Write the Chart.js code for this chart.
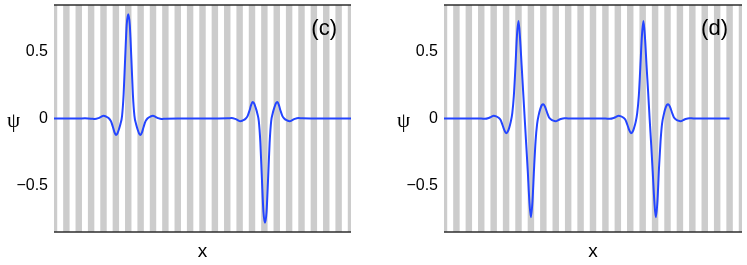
<!DOCTYPE html>
<html>
<head>
<meta charset="utf-8">
<script src="https://cdn.jsdelivr.net/npm/chart.js@4.4.1/dist/chart.umd.min.js"></script>
<style>
  html, body { margin: 0; padding: 0; background: #fff; }
  body { width: 747px; height: 265px; position: relative; overflow: hidden; }
  .panel { position: absolute; top: 0; height: 265px; }
</style>
</head>
<body>
<div class="panel" style="left:0;width:351px"><canvas id="chartC"></canvas></div>
<div class="panel" style="left:390px;width:352px"><canvas id="chartD"></canvas></div>
<script>
// lattice sites (centre of each grey stripe), in units of the lattice period
const stripeX = [0, 1, 2, 3, 4, 5, 6, 7, 8, 9, 10, 11, 12, 13, 14, 15, 16, 17, 18, 19, 20, 21, 22, 23, 24];
const yTicks = [-0.5, 0, 0.5];

// panel (c): positive packet near site 6, negative packet near site 17
const cX = [0, 1, 2, 2.5, 3.0, 3.3, 3.6, 3.8, 4.0, 4.2, 4.45, 4.6, 4.75, 4.875, 5.0, 5.125, 5.25, 5.375, 5.5, 5.625, 5.75, 5.875,
  6.0, 6.125, 6.25, 6.375, 6.5, 6.625, 6.75, 6.875, 7.0, 7.125, 7.25, 7.4, 7.55, 7.8, 8.0, 8.2, 8.4, 8.7, 9.0, 10, 11, 12, 13,
  14.05, 14.35, 14.65, 14.85, 15.05, 15.25, 15.5, 15.65, 15.8, 15.925, 16.05, 16.175, 16.3, 16.425, 16.55, 16.675, 16.8, 16.925,
  17.05, 17.175, 17.3, 17.425, 17.55, 17.675, 17.8, 17.925, 18.05, 18.175, 18.3, 18.45, 18.6, 18.85, 19.05, 19.25, 19.45, 19.75,
  20.05, 21, 22, 23, 24];
const cPsi = [0, 0, 0, 0.001, -0.001, -0.004, 0.003, 0.012, 0.02, 0.015, 0.0, -0.02, -0.06, -0.1, -0.123, -0.112, -0.08, -0.04, 0.02, 0.18, 0.45, 0.7,
  0.78, 0.7, 0.45, 0.18, 0.02, -0.04, -0.08, -0.112, -0.123, -0.1, -0.06, -0.02, 0.0, 0.015, 0.02, 0.012, 0.003, -0.004, -0.001, 0, 0, 0, 0,
  0.001, 0.004, -0.003, -0.012, -0.02, -0.015, 0.0, 0.02, 0.06, 0.1, 0.123, 0.112, 0.08, 0.04, -0.02, -0.18, -0.45, -0.7,
  -0.78, -0.7, -0.45, -0.18, -0.02, 0.04, 0.08, 0.112, 0.123, 0.1, 0.06, 0.02, 0.0, -0.015, -0.02, -0.012, -0.003, 0.004,
  0.001, 0, 0, 0, 0];

// panel (d): two dipole-like packets centred near sites 6.5 and 16.5
const dX = [0, 1, 2, 3, 3.3, 3.6, 3.8, 4.0, 4.2, 4.4, 4.55, 4.7, 4.85, 5.0, 5.125, 5.25, 5.375, 5.5, 5.625, 5.75, 5.875,
  6.0, 6.125, 6.25, 6.375, 6.5, 6.625, 6.75, 6.875, 7.0, 7.125, 7.25, 7.375, 7.5, 7.625, 7.75, 7.875, 8.0, 8.15, 8.3, 8.45,
  8.6, 8.8, 9.0, 9.2, 9.4, 9.7, 10, 11, 12, 13,
  13.36, 13.66, 13.86, 14.06, 14.26, 14.46, 14.61, 14.76, 14.91, 15.06, 15.19, 15.31, 15.44, 15.56, 15.69, 15.81, 15.94,
  16.06, 16.19, 16.31, 16.44, 16.56, 16.69, 16.81, 16.94, 17.06, 17.19, 17.31, 17.44, 17.56, 17.69, 17.81, 17.94, 18.06,
  18.21, 18.36, 18.51, 18.66, 18.86, 19.06, 19.26, 19.46, 19.76, 20.1, 21, 22, 23, 24];
const dPsi = [0, 0, 0, 0, -0.002, 0.004, 0.012, 0.02, 0.016, 0.005, -0.01, -0.045, -0.085, -0.11, -0.1, -0.07, -0.025, 0.04, 0.17, 0.38, 0.62,
  0.73, 0.6, 0.4, 0.2, 0.0, -0.2, -0.4, -0.62, -0.74, -0.62, -0.38, -0.17, -0.04, 0.025, 0.07, 0.1, 0.107, 0.085, 0.045, 0.01,
  -0.005, -0.016, -0.02, -0.012, -0.004, 0.002, 0, 0, 0, 0,
  -0.002, 0.004, 0.012, 0.02, 0.016, 0.005, -0.01, -0.045, -0.085, -0.11, -0.1, -0.07, -0.025, 0.04, 0.17, 0.38, 0.62,
  0.73, 0.6, 0.4, 0.2, 0.0, -0.2, -0.4, -0.62, -0.74, -0.62, -0.38, -0.17, -0.04, 0.025, 0.07, 0.1, 0.107,
  0.085, 0.045, 0.01, -0.005, -0.016, -0.02, -0.012, -0.004, 0.002, 0, 0, 0, 0];

const Y_MIN = -0.85, Y_MAX = 0.85;
const FONT = "'Liberation Sans', Arial, sans-serif";

// top/bottom frame lines over the stripes, then the psi label and the panel tag
const labelsPlugin = {
    id: "panelLabels",
    afterDatasetsDraw(chart) {
        const ctx = chart.ctx;
        const area = chart.chartArea;
        ctx.save();
        ctx.strokeStyle = "#2e2e2e";
        ctx.lineWidth = 1.3;
        ctx.beginPath();
        ctx.moveTo(area.left, area.top);
        ctx.lineTo(area.right, area.top);
        ctx.moveTo(area.left, area.bottom);
        ctx.lineTo(area.right, area.bottom);
        ctx.stroke();
        ctx.restore();
    },
    afterDraw(chart, args, opts) {
        const ctx = chart.ctx;
        const area = chart.chartArea;
        const y0 = chart.scales.y.getPixelForValue(0);
        ctx.save();
        ctx.fillStyle = "#000";
        ctx.font = "21px 'Liberation Serif', 'DejaVu Serif', serif";
        ctx.textAlign = "center";
        ctx.textBaseline = "middle";
        ctx.fillText("\u03c8", 13.5, y0 + 3);
        ctx.font = "22px " + FONT;
        ctx.textAlign = "right";
        ctx.textBaseline = "alphabetic";
        ctx.fillText(opts.tag, area.right - 14, area.top + 30);
        ctx.restore();
    },
};

const makeChart = (id, xs, ys, tag) => {
    const points = xs.map((x, i) => ({ x: x, y: ys[i] }));
    const stripes = stripeX.map((x) => ({ x: x, y: [Y_MIN, Y_MAX] }));
    return new Chart(document.getElementById(id), {
        type: "line",
        data: {
            datasets: [
                {
                    data: points,
                    borderColor: "#2445ff",
                    borderWidth: 2,
                    pointRadius: 0,
                    cubicInterpolationMode: "monotone",
                    fill: false,
                    order: 0,
                },
                {
                    type: "bar",
                    data: stripes,
                    backgroundColor: "#cccccc",
                    borderWidth: 0,
                    barPercentage: 0.52,
                    categoryPercentage: 1,
                    grouped: false,
                    clip: 0,
                    order: 1,
                },
            ],
        },
        options: {
            responsive: true,
            maintainAspectRatio: false,
            animation: false,
            layout: { padding: { top: 5, left: 0, right: 0, bottom: 0 } },
            plugins: {
                legend: { display: false },
                tooltip: { enabled: false },
                panelLabels: { tag: tag },
            },
            scales: {
                x: {
                    type: "linear",
                    min: 0,
                    max: 24,
                    offset: false,
                    ticks: { display: false },
                    grid: { display: false, drawTicks: false },
                    border: { display: false },
                    title: {
                        display: true,
                        text: "x",
                        color: "#000",
                        font: { family: FONT, size: 19 },
                        padding: { top: 0, bottom: 2 },
                    },
                    afterFit: (scale) => { scale.height = 33; },
                },
                y: {
                    min: Y_MIN,
                    max: Y_MAX,
                    grid: { display: false, drawTicks: false },
                    border: { display: false },
                    afterBuildTicks: (scale) => {
                        scale.ticks = yTicks.map((v) => ({ value: v }));
                    },
                    ticks: {
                        color: "#000",
                        padding: 6,
                        font: { family: FONT, size: 16 },
                        callback: (v) => (v < 0 ? "\u2212" + Math.abs(v) : String(v)),
                    },
                    afterFit: (scale) => {
                        scale.width = 54;
                        scale.paddingTop = 0;
                        scale.paddingBottom = 0;
                    },
                },
            },
        },
        plugins: [labelsPlugin],
    });
};

makeChart("chartC", cX, cPsi, "(c)");
makeChart("chartD", dX, dPsi, "(d)");
</script>
</body>
</html>
